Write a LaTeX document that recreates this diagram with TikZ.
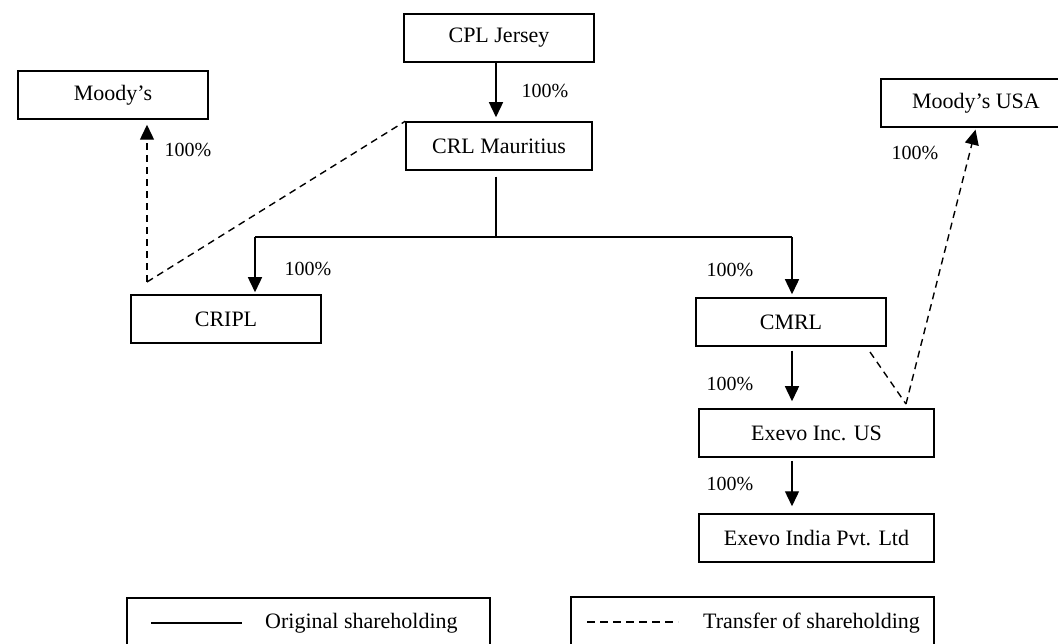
\documentclass[tikz,border=0pt]{standalone}
\usepackage{fontspec}
\setmainfont{Liberation Serif}
\usetikzlibrary{arrows.meta,calc}
\begin{document}
\begin{tikzpicture}[x=1pt,y=-1pt,
  entity/.style={draw=black,line width=1.5pt,rectangle,minimum width=190pt,minimum height=48pt,inner sep=0pt,font=\fontsize{22}{26}\selectfont},
  wide/.style={entity,minimum width=235pt},
  pct/.style={font=\fontsize{20}{24}\selectfont,inner sep=0pt},
  legtext/.style={font=\fontsize{22}{26}\selectfont,inner sep=0pt,anchor=west},
  legbox/.style={draw=black,line width=1.5pt,rectangle,minimum width=363pt,minimum height=72pt,inner sep=0pt},
  own/.style={line width=1.4pt,draw=black},
  ownarr/.style={own,-{Triangle[width=14pt,length=15pt]}},
  xfer/.style={line width=1.4pt,draw=black,dash pattern=on 7pt off 5pt},
  xferarr/.style={xfer,-{Triangle[width=14pt,length=15pt]}}
]
\useasboundingbox (0,0) rectangle (1058,644);
\clip (0,0) rectangle (1058,644);

% entities
\node[entity] (cpl) at (499,38) {CPL Jersey};
\node[entity,minimum width=186pt] (crl) at (499,146) {CRL Mauritius};
\node[entity] (moodys) at (113,95) {Moody’s};
\node[entity] (cripl) at (226,319) {CRIPL};
\node[entity] (cmrl) at (791,322) {CMRL};
\node[wide] (exevo) at (816.5,433) {Exevo Inc. US};
\node[wide] (india) at (816.5,538) {Exevo India Pvt. Ltd};
\node[entity] (musa) at (976,103) {Moody’s USA};

% junction coordinates
\coordinate (bus) at (496,237);
\coordinate (bl) at (255,237);
\coordinate (br) at (792,237);
\coordinate (mstart) at (147,282);
\coordinate (vtx) at (906,404);
\coordinate (cmrlx) at (870,352);

% original shareholding
\draw[ownarr,shorten >=4pt] (bus |- cpl.south) -- (bus |- crl.north);
\draw[own] ([yshift=-6pt]bus |- crl.south) -- (bus);
\draw[own] (bl) -- (br);
\draw[ownarr,shorten >=2pt] (bl) -- (bl |- cripl.north);
\draw[ownarr,shorten >=3pt] (br) -- (br |- cmrl.north);
\draw[ownarr,shorten <=4pt,shorten >=7pt] (br |- cmrl.south) -- (br |- exevo.north);
\draw[ownarr,shorten <=3pt,shorten >=7pt] (br |- exevo.south) -- (br |- india.north);

% transfer of shareholding
\draw[xferarr,shorten >=5pt] (mstart) -- (mstart |- moodys.south);
\draw[xfer] (mstart) -- (crl.north west);
\draw[xfer] (cmrlx) -- (vtx);
\draw[xferarr,shorten >=2pt] (vtx) -- (musa.south);

% percentages
\node[pct] (p1) at (545,91) {100\%};
\node[pct] (p2) at (188,150) {100\%};
\node[pct] (p3) at (308,269) {100\%};
\node[pct] (p4) at (730,270) {100\%};
\node[pct] (p5) at (730,384) {100\%};
\node[pct] (p6) at (730,484) {100\%};
\node[pct] (p7) at (915,153) {100\%};

% legend
\node[legbox] (leg1) at (308.5,634) {};
\coordinate (l1a) at (151,623);
\coordinate (l1b) at (242,623);
\draw[own] (l1a) -- (l1b);
\node[legtext] (leg1t) at (265,623) {Original shareholding};

\node[legbox] (leg2) at (752.5,633) {};
\coordinate (l2a) at (587,622);
\coordinate (l2b) at (678,622);
\draw[xfer,dash pattern=on 8pt off 5pt] (l2a) -- (l2b);
\node[legtext] (leg2t) at (703,623) {Transfer of shareholding};
\end{tikzpicture}
\end{document}
